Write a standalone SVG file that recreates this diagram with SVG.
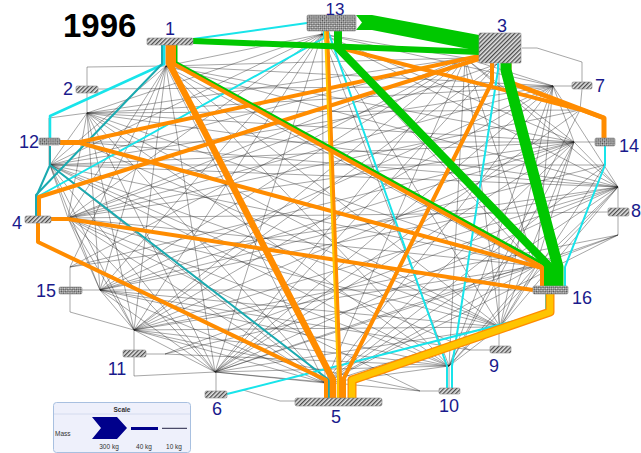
<svg xmlns="http://www.w3.org/2000/svg" width="641" height="453" viewBox="0 0 641 453">
<defs>
<pattern id="hatch" width="3" height="3" patternUnits="userSpaceOnUse" patternTransform="rotate(45)"><rect width="3" height="3" fill="#e4e4e4"/><rect width="1.3" height="3" fill="#4a4a4a"/></pattern>
<pattern id="check" width="3" height="3" patternUnits="userSpaceOnUse" patternTransform="rotate(45)"><rect width="3" height="3" fill="#dcdcdc"/><rect width="1.5" height="1.5" fill="#4a4a4a"/><rect x="1.5" y="1.5" width="1.5" height="1.5" fill="#4a4a4a"/></pattern>
<style>
.t{stroke:#222;stroke-width:.65;fill:none;opacity:.62}
.f{fill:none;stroke-linejoin:round}
.or{stroke:#ff8c00}
.gr{stroke:#00c800}
.cy{stroke:#18e4ea}
.te{stroke:#1aaab0}
.ye{stroke:#ffc400}
.box{stroke:#8a8a8a;stroke-width:.6}
.lbl{font-family:"Liberation Sans",Arial,sans-serif;font-size:18px;fill:#1a1a8c;text-anchor:middle}
.sm{font-family:"Liberation Sans",Arial,sans-serif;font-size:6.5px;fill:#333}
</style>
</defs>
<rect width="641" height="453" fill="#ffffff"/>
<text x="63" y="37" font-family="Liberation Sans,Arial,sans-serif" font-size="33" font-weight="bold" fill="#000">1996</text>
<g id="connectors">
<g id="thin">
<path class="t" d="M166 66L465 58M166 66L68 218M166 66L325 383M166 66L215 372M166 66L553 86M166 66L618 187M166 66L500 327M166 66L449 366M166 66L134 330M166 66L50 165M166 66L322 34M166 66L574 142M166 66L100 290M166 66L536 266M166 66L87 67V86M166 45V66"/>
<path class="t" d="M87 113L465 58M87 113L68 218M87 113L325 383M87 113L215 372M87 113L553 86M87 113L618 187M87 113L500 327M87 113L449 366M87 113L134 330M87 113L50 165M87 113L322 34M87 113L574 142M87 113L100 290M87 113L536 266M87 93V113M98 89L553 86"/>
<path class="t" d="M465 58L68 218M465 58L325 383M465 58L215 372M465 58L553 86M465 58L618 187M465 58L500 327M465 58L449 366M465 58L134 330M465 58L50 165M465 58L322 34M465 58L574 142M465 58L100 290M465 58L536 266M479 58H465M522 48H537L582 62V82M499 64V346"/>
<path class="t" d="M68 218L325 383M68 218L215 372M68 218L553 86M68 218L500 327M68 218L449 366M68 218L134 330M68 218L50 165M68 218L322 34M68 218L574 142M68 218L100 290M68 218L536 266M51 219H68M68 218L608 212"/>
<path class="t" d="M325 383L215 372M325 383L553 86M325 383L618 187M325 383L500 327M325 383L449 366M325 383L134 330M325 383L50 165M325 383L322 34M325 383L574 142M325 383L100 290M325 383L536 266"/>
<path class="t" d="M215 372L553 86M215 372L618 187M215 372L500 327M215 372L449 366M215 372L134 330M215 372L50 165M215 372L322 34M215 372L574 142M215 372L100 290M215 372L536 266M216 391V372M243 390L280 401H295"/>
<path class="t" d="M553 86L618 187M553 86L500 327M553 86L449 366M553 86L134 330M553 86L50 165M553 86L322 34M553 86L574 142M553 86L100 290M553 86L536 266M572 86H553M582 89L580 110"/>
<path class="t" d="M618 187L500 327M618 187L449 366M618 187L134 330M618 187L50 165M618 187L322 34M618 187L574 142M618 187L100 290M618 187L536 266M618 208V187M618 216V235M618 235L536 266"/>
<path class="t" d="M500 327L449 366M500 327L134 330M500 327L50 165M500 327L322 34M500 327L574 142M500 327L100 290M500 327L536 266M490 350H470"/>
<path class="t" d="M449 366L134 330M449 366L50 165M449 366L322 34M449 366L574 142M449 366L100 290M449 366L536 266M449 388V366M439 391H420"/>
<path class="t" d="M134 330L50 165M134 330L322 34M134 330L574 142M134 330L100 290M134 330L536 266M134 350V330M146 354H165M134 357V376L215 372M70 294V312L134 330"/>
<path class="t" d="M50 165L322 34M50 165L574 142M50 165L100 290M50 165L536 266M49 138V118L87 113M49 145V165M60 142H80M80 142L574 142"/>
<path class="t" d="M322 34L574 142M322 34L100 290M322 34L536 266M322 31V34M574 142L100 290M574 142L536 266M595 142H574M100 290H533M82 290H100M70 287V267"/>
<path class="t" d="M580 110L68 218M580 110L215 372M580 110L449 366M580 110L87 113M605 165L50 165M605 165L100 290M605 165L325 383M605 165L500 327M618 235L325 383M618 235L134 330M618 235L215 372"/>
<path class="t" d="M70 267L166 66M70 267L465 58M70 267L574 142M70 267L618 187M80 142L618 187M80 142L536 266M80 142L500 327M165 354L536 266M165 354L618 187M165 354L449 366"/>
<path class="t" d="M420 391L215 372M420 391L134 330M420 391L68 218M470 350L100 290M470 350L50 165M497 64L68 218M497 64L134 330M497 64L215 372"/>
</g>
<g id="flows">
<path class="f cy" stroke-width="2" d="M193 39L307 23"/>
<path class="f cy" stroke-width="2.5" d="M164 45V64L50 116V138"/>
<path class="f te" stroke-width="2" d="M162 45V64L36 195V216"/>
<path class="f cy" stroke-width="2" d="M324 31V38L37 197"/>
<path class="f te" stroke-width="2" d="M50 146V165L329 380V398"/>
<path class="f te" stroke-width="2" d="M50 165L36 197V216"/>
<path class="f cy" stroke-width="2" d="M328 31L447 366V388"/>
<path class="f cy" stroke-width="2" d="M498 63V70L452 366V388"/>
<path class="f cy" stroke-width="2" d="M227 394L243 390L546 313V294"/>
<path class="f cy" stroke-width="2" d="M605 146V165L565 267V286"/>
<path class="f or" stroke-width="4" d="M479 56L80 142H60"/>
<path class="f or" stroke-width="4" d="M479 59L39 197V216"/>
<path class="f or" stroke-width="4" d="M51 219H68L533 290"/>
<path class="f or" stroke-width="4" d="M38 223V242L326 380V398"/>
<path class="f or" stroke-width="4" d="M60 143H80L542 268V286"/>
<path class="f or" stroke-width="4" d="M492 63V82L344 378V398"/>
<path class="f or" stroke-width="5" d="M509 63V82L604 118V138"/>
<path class="f or" stroke-width="4" d="M340 31V48L582 110L604 118"/>
<path class="f or" stroke-width="4" d="M327 31L340 378V398"/>
<path class="f ye" stroke-width="2" d="M325 31L338 378V398"/>
<path class="f or" stroke-width="6.5" d="M169 45V63L333 380V398"/>
<path class="f gr" stroke-width="3" d="M176 45V62.5L544 264.5V286"/>
<path class="f or" stroke-width="4" d="M174 45V64L542 267V286"/>
<path class="f or" stroke-width="9" d="M550 294V312L352 380V398"/>
<path class="f ye" stroke-width="6.5" d="M550 294V312L352 380V398"/>
<path class="f gr" stroke-width="6" d="M193 41L479 52"/>
<path class="f gr" stroke-width="8" d="M338 31V48L549 266V286"/>
<path class="f gr" stroke-width="11" d="M506 63V70L558 267V286"/>
<polygon fill="#00c800" points="356,15 372,15 479,35 479,51 372,30 356,30 362,22.5"/>
</g>
</g>
<g id="n1"><rect class="box" x="147" y="38" width="46" height="7" rx="1.5" fill="url(#hatch)"/><text class="lbl" x="170" y="35">1</text></g>
<g id="n2"><rect class="box" x="76" y="86" width="22" height="7" rx="1.5" fill="url(#hatch)"/><text class="lbl" x="68" y="95">2</text></g>
<g id="n3"><rect class="box" x="479" y="33" width="42" height="30" rx="1" fill="url(#hatch)"/><text class="lbl" x="502" y="32">3</text></g>
<g id="n4"><rect class="box" x="25" y="216" width="26" height="7" rx="1.5" fill="url(#hatch)"/><text class="lbl" x="17" y="229">4</text></g>
<g id="n5"><rect class="box" x="295" y="398" width="87" height="8" rx="2" fill="url(#hatch)"/><text class="lbl" x="336" y="423">5</text></g>
<g id="n6"><rect class="box" x="205" y="391" width="22" height="7" rx="1.5" fill="url(#hatch)"/><text class="lbl" x="217" y="415">6</text></g>
<g id="n7"><rect class="box" x="572" y="82" width="20" height="7" rx="1.5" fill="url(#hatch)"/><text class="lbl" x="600" y="92">7</text></g>
<g id="n8"><rect class="box" x="608" y="208" width="21" height="8" rx="1.5" fill="url(#hatch)"/><text class="lbl" x="636" y="217">8</text></g>
<g id="n9"><rect class="box" x="490" y="346" width="21" height="7" rx="1.5" fill="url(#hatch)"/><text class="lbl" x="494" y="372">9</text></g>
<g id="n10"><rect class="box" x="439" y="388" width="21" height="6" rx="1.5" fill="url(#hatch)"/><text class="lbl" x="449" y="412">10</text></g>
<g id="n11"><rect class="box" x="123" y="350" width="23" height="7" rx="1.5" fill="url(#hatch)"/><text class="lbl" x="117" y="375">11</text></g>
<g id="n12"><rect class="box" x="39" y="138" width="21" height="7" rx="1.5" fill="url(#check)"/><text class="lbl" x="29" y="148">12</text></g>
<g id="n13"><rect class="box" x="307" y="15" width="49" height="16" rx="1.5" fill="url(#check)"/><text class="lbl" x="335" y="14.5" style="font-size:17px">13</text></g>
<g id="n14"><rect class="box" x="595" y="138" width="20" height="8" rx="1.5" fill="url(#check)"/><text class="lbl" x="629" y="152">14</text></g>
<g id="n15"><rect class="box" x="59" y="287" width="23" height="7" rx="1.5" fill="url(#check)"/><text class="lbl" x="46" y="297">15</text></g>
<g id="n16"><rect class="box" x="533" y="286" width="35" height="8" rx="1.5" fill="url(#check)"/><text class="lbl" x="582" y="304">16</text></g>
<g id="legend">
<rect x="53.5" y="402.5" width="137" height="50" rx="3" fill="#eef0fb" stroke="#a8c0e0"/>
<line x1="54" y1="414" x2="190" y2="414" stroke="#cdd6ec" stroke-width="0.8"/>
<text class="sm" x="122" y="411.5" text-anchor="middle" font-weight="bold">Scale</text>
<text class="sm" x="55" y="436">Mass</text>
<polygon points="92,417 117,417 127,428 117,439 92,439 101,428" fill="#00008b"/>
<rect x="131" y="427" width="27" height="3" fill="#00008b"/>
<rect x="162" y="427.8" width="25" height="1" fill="#222244"/>
<text class="sm" x="109" y="449" text-anchor="middle">300 kg</text>
<text class="sm" x="144" y="449" text-anchor="middle">40 kg</text>
<text class="sm" x="174" y="449" text-anchor="middle">10 kg</text>
</g>
</svg>
